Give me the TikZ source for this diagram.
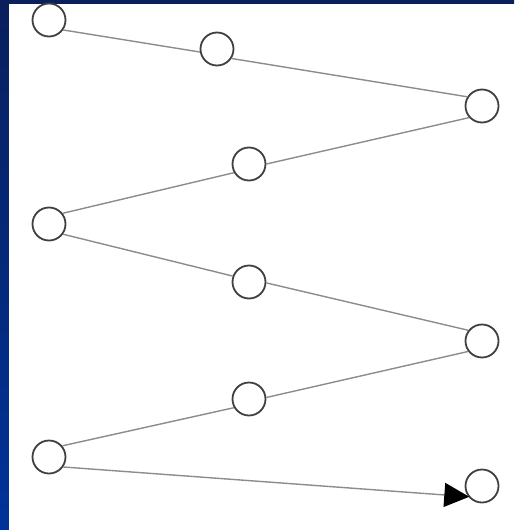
\documentclass[tikz,border=0pt]{standalone}
\usetikzlibrary{arrows.meta}
\definecolor{bgtop}{RGB}{10,31,92}
\definecolor{bgbot}{RGB}{0,51,153}
\begin{document}
\begin{tikzpicture}[x=1pt,y=-1pt,
  dot/.style={circle,draw=black!75,line width=1.8pt,minimum size=33pt,inner sep=0pt,fill=white},
  link/.style={draw=black!45,line width=1.4pt}]
\useasboundingbox (0,0) rectangle (514,530);
\shade[top color=bgtop,bottom color=bgbot] (0,0) rectangle (514,530);
\fill[white] (9,4) rectangle (516,532);
\node[dot] (n1) at (49,20) {};
\node[dot] (n2) at (217,49) {};
\node[dot] (n3) at (482,106) {};
\node[dot] (n4) at (249,164) {};
\node[dot] (n5) at (49,224) {};
\node[dot] (n6) at (249,282) {};
\node[dot] (n7) at (482,341) {};
\node[dot] (n8) at (249,399) {};
\node[dot] (n9) at (49,457) {};
\node[dot] (n10) at (482,486) {};
\draw[link] (n1.-35) -- (n2.190);
\draw[link] (n2.-33) -- (n3.148);
\draw[link] (n3.222) -- (n4.0);
\draw[link] (n4.210) -- (n5.38);
\draw[link] (n5.-36) -- (n6.160);
\draw[link] (n6.-3) -- (n7.142);
\draw[link] (n7.217) -- (n8.5);
\draw[link] (n8.210) -- (n9.40);
\draw[link,-{Triangle[length=25pt,width=24pt,color=black]},shorten >=-1pt] (n9.-35) -- (n10.218);
\end{tikzpicture}
\end{document}
